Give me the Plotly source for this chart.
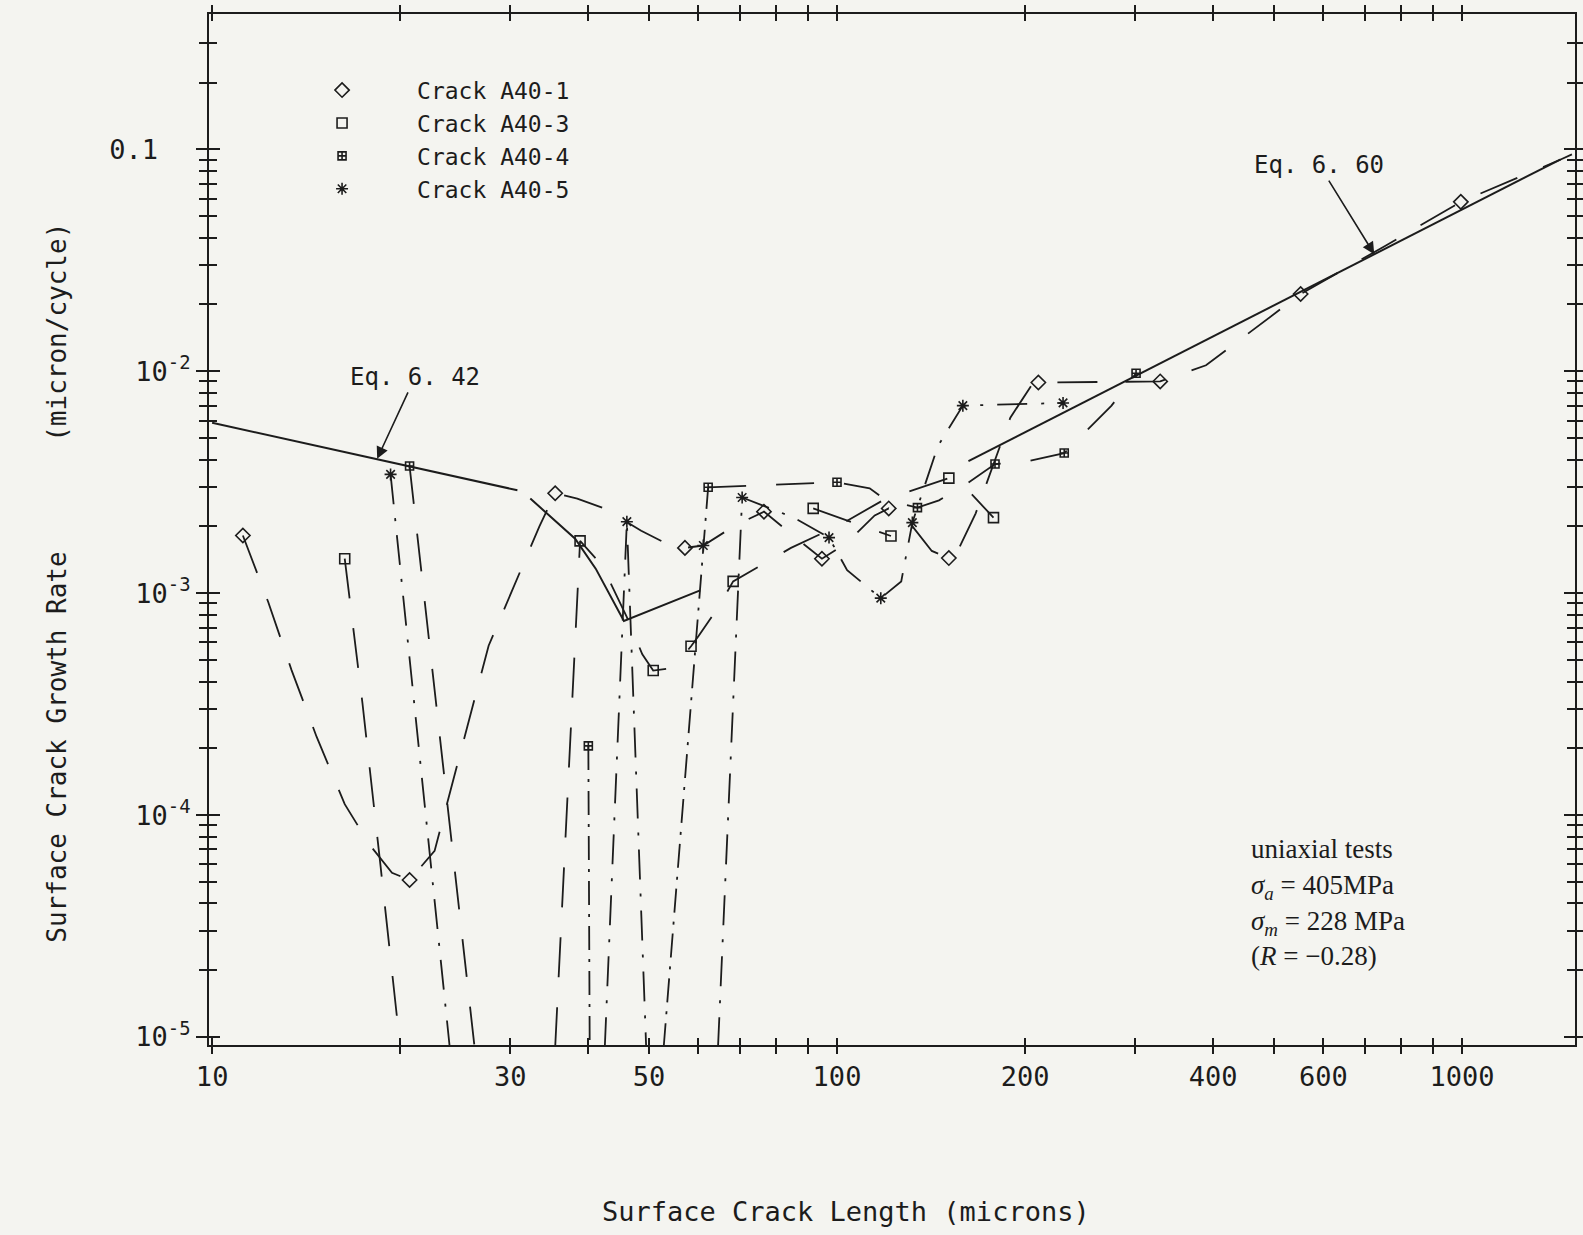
import math
import plotly.graph_objects as go

# ---------------------------------------------------------------------------
# Measured crack growth data (crack length in microns, rate in micron/cycle)
# ---------------------------------------------------------------------------
A40_1_X = [11.2, 20.7, 35.4, 57.1, 76.4, 94.6, 121, 151, 210, 329, 552, 996]
A40_1_Y = [1.82e-3, 5.1e-5, 2.82e-3, 1.6e-3, 2.33e-3, 1.43e-3, 2.41e-3, 1.44e-3,
           8.9e-3, 9.0e-3, 0.0223, 0.058]

A40_3_X = [16.3, 38.8, 50.8, 58.4, 68.2, 91.6, 122, 151, 178]
A40_3_Y = [1.43e-3, 1.72e-3, 4.48e-4, 5.77e-4, 1.13e-3, 2.41e-3, 1.81e-3, 3.3e-3, 2.19e-3]

A40_4_X = [20.7, 40.0, 62.2, 100, 134.5, 179, 231, 301]
A40_4_Y = [3.74e-3, 2.05e-4, 3.0e-3, 3.16e-3, 2.43e-3, 3.82e-3, 4.28e-3, 9.8e-3]

A40_5_X = [19.3, 46.1, 61.1, 70.5, 97.1, 117.5, 132, 159, 230]
A40_5_Y = [3.43e-3, 2.1e-3, 1.64e-3, 2.7e-3, 1.78e-3, 9.5e-4, 2.08e-3, 7.0e-3, 7.2e-3]

# ---------------------------------------------------------------------------
# Predicted growth curves for each crack (one list per plotted segment)
# ---------------------------------------------------------------------------
A40_1_CURVE_X = [[11.2, 12.3, 13.4, 14.7, 16.3, 17.9, 19.4, 20.7, 22.7, 27.7, 33.4, 35.4,
                  38.4, 42.4, 48.6, 54.1, 57.1, 61.1, 68.7, 76.4, 86.3, 94.6, 103.8,
                  114.9, 121, 130.6, 141.8, 151, 156, 166.7, 189.4, 205.6, 210, 329,
                  389.5, 437, 477, 552, 751, 996, 1439, 1500]]
A40_1_CURVE_Y = [[1.82e-3, 9.1e-4, 4.5e-4, 2.25e-4, 1.12e-4, 7.3e-5, 5.5e-5, 5.1e-5,
                  6.9e-5, 5.8e-4, 2.0e-3, 2.82e-3, 2.67e-3, 2.41e-3, 1.91e-3, 1.64e-3,
                  1.6e-3, 1.64e-3, 2.02e-3, 2.33e-3, 1.76e-3, 1.43e-3, 1.69e-3, 2.24e-3,
                  2.41e-3, 2.08e-3, 1.55e-3, 1.44e-3, 1.55e-3, 2.29e-3, 6.18e-3, 8.8e-3,
                  8.9e-3, 9.0e-3, 0.01064, 0.0136, 0.01637, 0.0223, 0.0365, 0.058, 0.090,
                  0.095]]

A40_3_CURVE_X = [[16.3, 17.4, 18.6, 20.0],
                 [35.4, 37.7, 38.8, 42.1, 46.1, 48.8, 50.8, 53.8, 56.7, 58.4, 60.0, 64.5,
                  68.2, 84.4, 100.7, 118.4, 151, 161, 178],
                 [91.6, 105.8, 122]]
A40_3_CURVE_Y = [[1.43e-3, 3.2e-4, 5.9e-5, 9e-6],
                 [9e-6, 3.3e-4, 1.72e-3, 1.33e-3, 7.8e-4, 5.3e-4, 4.48e-4, 4.58e-4,
                  5.2e-4, 5.77e-4, 6.4e-4, 8.6e-4, 1.13e-3, 1.6e-3, 2.02e-3, 2.62e-3,
                  3.3e-3, 2.97e-3, 2.19e-3],
                 [2.41e-3, 2.08e-3, 1.81e-3]]

A40_4_CURVE_X = [[20.7, 26.3],
                 [62.2, 100, 112.8, 119.8, 134.5, 145.6, 160, 179, 203, 231, 275, 301]]
A40_4_CURVE_Y = [[3.74e-3, 9e-6],
                 [3.0e-3, 3.16e-3, 2.97e-3, 2.62e-3, 2.43e-3, 2.62e-3, 3.06e-3, 3.82e-3,
                  3.94e-3, 4.28e-3, 7.0e-3, 9.8e-3]]
A40_4_DROP_X = [[40.0, 40.2], [52.8, 62.2]]
A40_4_DROP_Y = [[2.05e-4, 9e-6], [9e-6, 3.0e-3]]

A40_5_CURVE_X = [[19.3, 24.0],
                 [42.5, 46.1, 49.5],
                 [64.5, 70.5, 85.3, 97.1, 103.8, 117.5, 126.7, 132, 145, 159, 230]]
A40_5_CURVE_Y = [[3.43e-3, 9e-6],
                 [9e-6, 2.1e-3, 9e-6],
                 [9e-6, 2.7e-3, 2.19e-3, 1.78e-3, 1.27e-3, 9.5e-4, 1.13e-3, 2.08e-3,
                  4.6e-3, 7.0e-3, 7.2e-3]]

# Model equations
EQ642_X = [10, 30.8]
EQ642_Y = [5.86e-3, 2.91e-3]
TRANSITION_X = [32.3, 38.1, 41.1, 45.6, 60.4]
TRANSITION_Y = [2.67e-3, 1.76e-3, 1.29e-3, 7.5e-4, 1.03e-3]
EQ660_X = [162.3, 1439]
EQ660_Y = [3.94e-3, 0.0902]

# Arrow targets for the equation labels
EQ642_POINT = (18.37, 4.03e-3)
EQ660_POINT = (724, 0.0337)

# Axis ticks
X_LABELED = [10, 30, 50, 100, 200, 400, 600, 1000]
X_LABEL_TEXT = ["10", "30", "50", "100", "200", "400", "600", "1000"]
X_MINOR = [20, 40, 60, 70, 80, 90, 300, 500, 700, 800, 900]
Y_MAJOR = [1e-5, 1e-4, 1e-3, 1e-2, 0.1]
Y_MAJOR_TEXT = ["10<sup>-5</sup>", "10<sup>-4</sup>", "10<sup>-3</sup>",
                "10<sup>-2</sup>", "0.1\u00a0\u00a0"]
Y_MINOR = [k * 10.0 ** e for e in range(-5, -1) for k in range(2, 10)] + [0.2, 0.3]

X_RANGE = [0.995, 3.181]
Y_RANGE = [-5.036, -0.39]

INK = "#1c1c1c"
PAPER = "#f4f4f0"
MONO = "DejaVu Sans Mono"
SERIF = "Liberation Serif"

fig = go.Figure()


def add_segments(xs, ys, dash, width=1.8):
    for sx, sy in zip(xs, ys):
        fig.add_trace(go.Scatter(x=sx, y=sy, mode="lines", showlegend=False,
                                 hoverinfo="skip",
                                 line=dict(color=INK, width=width, dash=dash)))


# predicted curves
add_segments(A40_1_CURVE_X, A40_1_CURVE_Y, "40px,28px")
add_segments(A40_3_CURVE_X, A40_3_CURVE_Y, "40px,30px")
add_segments(A40_4_CURVE_X, A40_4_CURVE_Y, "38px,30px")
add_segments(A40_4_DROP_X, A40_4_DROP_Y, "24px,9px,3px,9px")
add_segments(A40_5_CURVE_X, A40_5_CURVE_Y, "30px,14px,3px,14px")

# model equations (solid)
add_segments([EQ642_X, TRANSITION_X, EQ660_X], [EQ642_Y, TRANSITION_Y, EQ660_Y],
             "solid", width=2.0)

# measured points
markers = [
    ("Crack A40-1", A40_1_X, A40_1_Y, "diamond-open", 11),
    ("Crack A40-3", A40_3_X, A40_3_Y, "square-open", 10),
    ("Crack A40-4", A40_4_X, A40_4_Y, "square-cross-open", 8),
    ("Crack A40-5", A40_5_X, A40_5_Y, "asterisk-open", 10),
]
for name, xs, ys, sym, size in markers:
    fig.add_trace(go.Scatter(
        x=xs, y=ys, mode="markers", name=name, hoverinfo="skip",
        marker=dict(symbol=sym, size=size, color=INK,
                    line=dict(color=INK, width=1.6)),
    ))

# anchor trace for the overlaid inner-tick axes
fig.add_trace(go.Scatter(x=A40_1_X[:1], y=A40_1_Y[:1], xaxis="x2", yaxis="y2",
                         mode="markers", marker=dict(opacity=0), showlegend=False,
                         hoverinfo="skip"))

axis_common = dict(type="log", showgrid=False, zeroline=False, showline=True,
                   linecolor=INK, linewidth=2, mirror="ticks", tickcolor=INK,
                   tickwidth=1.6, automargin=False)


def minor(side, length, vals):
    return dict(tickmode="array", tickvals=vals, ticks=side, ticklen=length,
                tickcolor=INK, tickwidth=1.6, showgrid=False)


fig.update_layout(
    width=1583, height=1235,
    margin=dict(l=209, r=8, t=14, b=190),
    paper_bgcolor=PAPER, plot_bgcolor=PAPER,
    hovermode=False,
    font=dict(family=MONO, color=INK, size=26),
    xaxis=dict(**axis_common, range=X_RANGE, ticks="outside", ticklen=7,
               tickmode="array", tickvals=X_LABELED, ticktext=X_LABEL_TEXT,
               minor=minor("outside", 7, X_MINOR),
               tickfont=dict(family=MONO, size=27, color=INK)),
    yaxis=dict(**axis_common, range=Y_RANGE, ticks="outside", ticklen=11,
               tickmode="array", tickvals=Y_MAJOR, ticktext=Y_MAJOR_TEXT,
               minor=minor("outside", 8, Y_MINOR),
               tickfont=dict(family=MONO, size=27, color=INK)),
    xaxis2=dict(**axis_common, range=X_RANGE, overlaying="x", side="bottom",
                ticks="inside", ticklen=7, tickmode="array", tickvals=X_LABELED,
                minor=minor("inside", 7, X_MINOR), showticklabels=False),
    yaxis2=dict(**axis_common, range=Y_RANGE, overlaying="y", side="left",
                ticks="inside", ticklen=11, tickmode="array", tickvals=Y_MAJOR,
                minor=minor("inside", 8, Y_MINOR), showticklabels=False),
    legend=dict(x=0.0425, y=0.947, xanchor="left", yanchor="top",
                bgcolor="rgba(0,0,0,0)", borderwidth=0, itemwidth=140,
                font=dict(family=MONO, size=23, color=INK), tracegroupgap=0),
)

annotations = [
    # axis titles
    dict(text="Surface Crack Length (microns)", xref="paper", yref="paper",
         x=0.466, y=-0.178, showarrow=False, font=dict(family=MONO, size=27, color=INK)),
    dict(text="Surface Crack Growth Rate" + "\u00a0" * 7 + "(micron/cycle)",
         xref="paper", yref="paper", x=-0.124, y=0.448, textangle=-90,
         showarrow=False, font=dict(family=MONO, size=26, color=INK)),
    # equation labels with arrows pointing at the curves
    dict(x=math.log10(EQ642_POINT[0]), y=math.log10(EQ642_POINT[1]), text="Eq. 6. 42",
         showarrow=True, ax=38, ay=-82, arrowhead=2, arrowsize=1.5, standoff=0,
         arrowwidth=1.6, arrowcolor=INK, font=dict(family=MONO, size=24, color=INK)),
    dict(x=math.log10(EQ660_POINT[0]), y=math.log10(EQ660_POINT[1]), text="Eq. 6. 60",
         showarrow=True, ax=-55, ay=-89, arrowhead=2, arrowsize=1.5, standoff=0,
         arrowwidth=1.6, arrowcolor=INK, font=dict(family=MONO, size=24, color=INK)),
]

# test conditions
conditions = ["uniaxial tests",
              "<i>σ<sub>a</sub></i> = 405MPa",
              "<i>σ<sub>m</sub></i> = 228 MPa",
              "(<i>R</i> = −0.28)"]
cond_y = [-4.152, -4.323, -4.488, -4.636]
for text, yy in zip(conditions, cond_y):
    annotations.append(dict(x=2.66, y=yy, text=text, xanchor="left", showarrow=False,
                            font=dict(family=SERIF, size=27, color=INK)))

fig.update_layout(annotations=annotations)

fig.write_html("out.html")
